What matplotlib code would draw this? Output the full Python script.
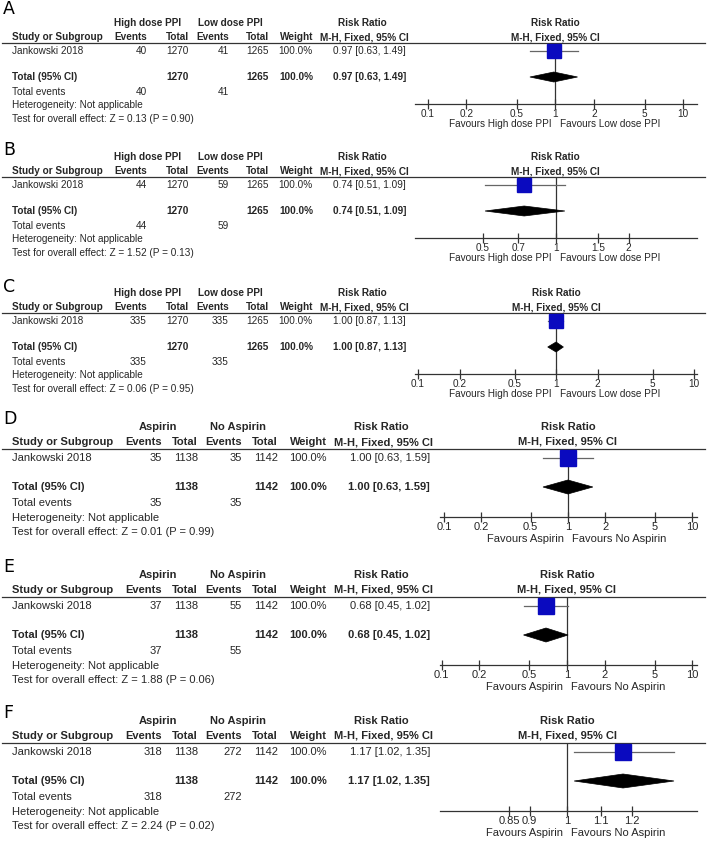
import matplotlib
matplotlib.use('Agg')
import matplotlib.pyplot as plt
from matplotlib.patches import Polygon

# 字体设置
plt.rcParams['font.family'] = ['Liberation Sans', 'DejaVu Sans']

# 各子图数据 (A-F)
panel_letters = ['A', 'B', 'C', 'D', 'E', 'F']
study_names = ['Jankowski 2018'] * 6
group1_names = ['High dose PPI'] * 3 + ['Aspirin'] * 3
group2_names = ['Low dose PPI'] * 3 + ['No Aspirin'] * 3
events1 = [40, 44, 335, 35, 37, 318]
totals1 = [1270, 1270, 1270, 1138, 1138, 1138]
events2 = [41, 59, 335, 35, 55, 272]
totals2 = [1265, 1265, 1265, 1142, 1142, 1142]
weights = [100.0] * 6
rr = [0.97, 0.74, 1.00, 1.00, 0.68, 1.17]
ci_low = [0.63, 0.51, 0.87, 0.63, 0.45, 1.02]
ci_high = [1.49, 1.09, 1.13, 1.59, 1.02, 1.35]
z_values = ['0.13', '1.52', '0.06', '0.01', '1.88', '2.24']
p_values = ['0.90', '0.13', '0.95', '0.99', '0.06', '0.02']

ticks_wide = [0.1, 0.2, 0.5, 1, 2, 5, 10]
ticks_b = [0.5, 0.7, 1, 1.5, 2]
ticks_f = [0.85, 0.9, 1, 1.1, 1.2]
axis_ticks = [ticks_wide, ticks_b, ticks_wide, ticks_wide, ticks_wide, ticks_f]
axis_limits = [(0.079, 12.9), (0.262, 3.83), (0.095, 10.5),
               (0.093, 11.0), (0.097, 10.9), (0.70, 1.44)]

# 版式 (像素)
W, H = 707, 841
line_y = [43, 177, 313, 449, 597, 743]
letter_y = [9, 150, 287, 419, 567, 713]

style_small = dict(fs=7.2, cols=(147, 189, 229, 269, 313, 406), g1c=148, g2c=230,
                   rrh=362, plot=(415, 697), sq=10.5, dh=5,
                   off=dict(h1=-20, h2=-6, r1=8, tot=34, tev=49, het=62, test=76,
                            axis=61, fav=81))
style_large = dict(fs=8.0, cols=(162, 198, 242, 278, 327, 430), g1c=158, g2c=238,
                   rrh=381, plot=(440, 697), sq=12, dh=7,
                   off=dict(h1=-22, h2=-7, r1=9, tot=38, tev=54, het=69, test=83,
                            axis=68, fav=90))

txt_c = '#262626'

fig = plt.figure(figsize=(W / 100, H / 100), dpi=100)
bg = fig.add_axes([0, 0, 1, 1])
bg.set_xlim(0, W)
bg.set_ylim(H, 0)
bg.axis('off')

for i in range(6):
    st = style_small if i < 3 else style_large
    fs = st['fs']
    off = st['off']
    ly = line_y[i]
    c_ev1, c_t1, c_ev2, c_t2, c_w, c_rr = st['cols']

    def put(x, dy, s, ha='left', bold=False):
        bg.text(x, ly + dy, s, ha=ha, va='center', fontsize=fs, color=txt_c,
                fontweight='bold' if bold else 'normal')

    # 子图字母
    bg.text(3, letter_y[i], panel_letters[i], ha='left', va='center', fontsize=12.5,
            color='black', family=['DejaVu Sans'])

    # 表头
    put(st['g1c'], off['h1'], group1_names[i], ha='center', bold=True)
    put(st['g2c'], off['h1'], group2_names[i], ha='center', bold=True)
    put(st['rrh'], off['h1'], 'Risk Ratio', ha='center', bold=True)
    put(12, off['h2'], 'Study or Subgroup', bold=True)
    put(c_ev1, off['h2'], 'Events', ha='right', bold=True)
    put(c_t1, off['h2'], 'Total', ha='right', bold=True)
    put(c_ev2, off['h2'], 'Events', ha='right', bold=True)
    put(c_t2, off['h2'], 'Total', ha='right', bold=True)
    put(c_w, off['h2'], 'Weight', ha='right', bold=True)
    put(st['rrh'] + 2, off['h2'], 'M-H, Fixed, 95% CI', ha='center', bold=True)
    bg.plot([2, 705], [ly, ly], color='#333333', lw=0.9)

    ci_txt = f'{rr[i]:.2f} [{ci_low[i]:.2f}, {ci_high[i]:.2f}]'
    # 研究行
    put(12, off['r1'], study_names[i])
    put(c_ev1, off['r1'], str(events1[i]), ha='right')
    put(c_t1, off['r1'], str(totals1[i]), ha='right')
    put(c_ev2, off['r1'], str(events2[i]), ha='right')
    put(c_t2, off['r1'], str(totals2[i]), ha='right')
    put(c_w, off['r1'], f'{weights[i]:.1f}%', ha='right')
    put(c_rr, off['r1'], ci_txt, ha='right')
    # 合计行
    put(12, off['tot'], 'Total (95% CI)', bold=True)
    put(c_t1, off['tot'], str(totals1[i]), ha='right', bold=True)
    put(c_t2, off['tot'], str(totals2[i]), ha='right', bold=True)
    put(c_w, off['tot'], f'{weights[i]:.1f}%', ha='right', bold=True)
    put(c_rr, off['tot'], ci_txt, ha='right', bold=True)
    put(12, off['tev'], 'Total events')
    put(c_ev1, off['tev'], str(events1[i]), ha='right')
    put(c_ev2, off['tev'], str(events2[i]), ha='right')
    put(12, off['het'], 'Heterogeneity: Not applicable')
    put(12, off['test'], f'Test for overall effect: Z = {z_values[i]} (P = {p_values[i]})')

    # 森林图区域
    x0, x1 = st['plot']
    ay = ly + off['axis']
    ax = fig.add_axes([x0 / W, 1 - ay / H, (x1 - x0) / W, (ay - ly) / H])
    ax.set_xscale('log')
    ax.set_xlim(*axis_limits[i])
    ax.set_ylim(ay, ly)
    ax.patch.set_visible(False)
    for sp in ['top', 'left', 'right']:
        ax.spines[sp].set_visible(False)
    ax.spines['bottom'].set_color('#333333')
    ax.spines['bottom'].set_linewidth(0.9)
    ax.set_yticks([])
    ax.minorticks_off()
    ax.set_xticks(axis_ticks[i])
    ax.set_xticklabels([f'{t:g}' for t in axis_ticks[i]])
    ax.tick_params(axis='x', direction='inout', length=7, width=0.9, color='#333333',
                   labelsize=fs, labelcolor=txt_c, pad=0)

    ax.axvline(1, color='#333333', lw=0.9, zorder=1)
    y1 = ly + off['r1']
    yt = ly + off['tot']
    ax.plot([ci_low[i], ci_high[i]], [y1, y1], color='#666666', lw=0.9, zorder=2)
    ax.plot(rr[i], y1, marker='s', ms=st['sq'], color='#0a0abf', mec='#0a0abf', zorder=3)
    dh = st['dh']
    dia = Polygon([(ci_low[i], yt), (rr[i], yt - dh), (ci_high[i], yt), (rr[i], yt + dh)],
                  closed=True, facecolor='black', edgecolor='black', lw=0.5, zorder=3)
    ax.add_patch(dia)

    ax.text(1, ly + off['h1'], 'Risk Ratio', ha='center', va='center', fontsize=fs,
            color=txt_c, fontweight='bold', clip_on=False)
    ax.text(1, ly + off['h2'], 'M-H, Fixed, 95% CI', ha='center', va='center', fontsize=fs,
            color=txt_c, fontweight='bold', clip_on=False)
    fy = ly + off['fav']
    ax.annotate('Favours ' + group1_names[i], xy=(1, fy), xytext=(-3, 0),
                textcoords='offset points', ha='right', va='center', fontsize=fs,
                color=txt_c, annotation_clip=False)
    ax.annotate('Favours ' + group2_names[i], xy=(1, fy), xytext=(3, 0),
                textcoords='offset points', ha='left', va='center', fontsize=fs,
                color=txt_c, annotation_clip=False)

fig.savefig('out.png', dpi=100)
